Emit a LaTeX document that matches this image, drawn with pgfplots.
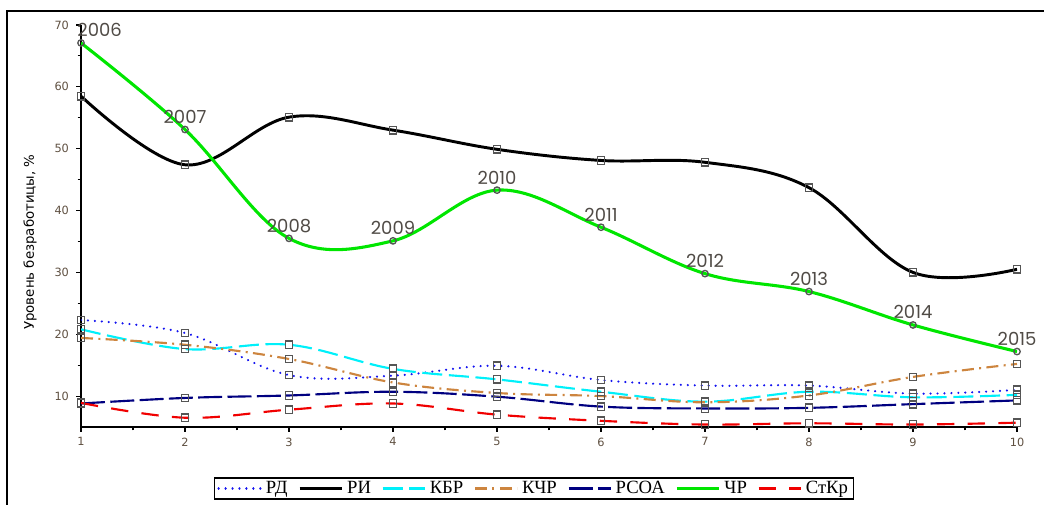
\documentclass[border=0pt]{standalone}
\usepackage{pgfplots}
\pgfplotsset{compat=1.18}
\usepackage{pgfplotstable}
\usepackage{fontspec}
\setmainfont{Liberation Serif}
\newfontfamily\ticksfont{DejaVu Sans}
\newfontfamily\yearfont{Poppins}
\definecolor{tickc}{RGB}{95,80,65}
\definecolor{rd}{RGB}{20,20,240}
\definecolor{kbr}{RGB}{0,240,250}
\definecolor{kchr}{RGB}{205,133,63}
\definecolor{rsoa}{RGB}{0,0,128}
\definecolor{chr}{RGB}{0,230,0}
\definecolor{stkr}{RGB}{240,0,0}
\definecolor{mk}{RGB}{85,85,85}
\definecolor{yearc}{RGB}{80,75,70}

\pgfplotstableread{
x y lab dx
1 67.1 2006 14
2 53.1 2007 0
3 35.5 2008 0
4 35.1 2009 0
5 43.3 2010 0
6 37.3 2011 0
7 29.8 2012 0
8 26.9 2013 0
9 21.5 2014 0
10 17.2 2015 0
}\chrtable

\begin{document}
\begin{tikzpicture}[x=1pt,y=1pt]
\useasboundingbox (0,0) rectangle (783,378);
\draw[line width=2.2pt] (5.25,-10) -- (5.25,369.75) -- (800,369.75);
\begin{axis}[
  at={(60.75pt,57.75pt)}, anchor=south west,
  scale only axis, width=702pt, height=301.5pt,
  xmin=1, xmax=10, ymin=5, ymax=70,
  axis x line*=bottom, axis y line*=left,
  axis line style={line width=0.9pt, black},
  xtick={1,...,10}, ytick={10,20,...,70},
  minor x tick num=1, minor y tick num=1,
  tick align=outside,
  major tick length=3.5pt, minor tick length=2.5pt,
  tick style={line width=0.8pt, black},
  ticklabel style={font=\ticksfont\fontsize{8.5}{10}\selectfont, text=tickc},
  /pgf/number format/assume math mode=true,
  xticklabel style={yshift=-1pt},
  yticklabel style={xshift=-2pt},
  ylabel={Уровень безработицы, \%},
  every axis y label/.style={at={(axis description cs:-0.0545,0.46)}, rotate=90, anchor=center, font=\ticksfont\fontsize{10}{12}\selectfont},
  legend columns=7,
  legend style={at={(0.484,-0.153)}, anchor=center, draw=black, line width=0.8pt,
     font=\fontsize{14}{15}\selectfont, inner xsep=2pt, inner ysep=0.5pt,
     /tikz/every odd column/.append style={column sep=1pt},
     /tikz/every even column/.append style={column sep=6pt}},
  legend image code/.code={\draw[#1] (0pt,0pt) -- (31.5pt,0pt);},
  smooth, tension=0.6,
]
\addplot[rd, line width=1.8pt, line cap=round, dash pattern=on 0.01pt off 5.2pt,
  mark=square, mark size=2.8pt, mark options={solid, draw=mk, fill=none, line width=1pt}]
  coordinates {(1,22.3)(2,20.2)(3,13.4)(4,13.3)(5,14.9)(6,12.6)(7,11.7)(8,11.7)(9,10.4)(10,11.0)};
\addlegendentry{РД}
\addplot[black, line width=2.2pt,
  mark=square, mark size=2.8pt, mark options={solid, draw=mk, fill=none, line width=1pt}]
  coordinates {(1,58.5)(2,47.4)(3,55.1)(4,53.0)(5,49.9)(6,48.1)(7,47.8)(8,43.7)(9,30.0)(10,30.5)};
\addlegendentry{РИ}
\addplot[kbr, line width=1.6pt, dash pattern=on 15pt off 5pt,
  mark=square, mark size=2.8pt, mark options={solid, draw=mk, fill=none, line width=1pt}]
  coordinates {(1,20.8)(2,17.6)(3,18.3)(4,14.4)(5,12.7)(6,10.7)(7,9.1)(8,10.7)(9,9.8)(10,10.2)};
\addlegendentry{КБР}
\addplot[kchr, line width=1.6pt, dash pattern=on 9pt off 4pt on 1.5pt off 4pt,
  mark=square, mark size=2.8pt, mark options={solid, draw=mk, fill=none, line width=1pt}]
  coordinates {(1,19.4)(2,18.3)(3,16.0)(4,12.2)(5,10.5)(6,10.0)(7,9.0)(8,10.1)(9,13.1)(10,15.2)};
\addlegendentry{КЧР}
\addplot[rsoa, line width=1.6pt, dash pattern=on 18pt off 4pt,
  mark=square, mark size=2.8pt, mark options={solid, draw=mk, fill=none, line width=1pt}]
  coordinates {(1,8.8)(2,9.7)(3,10.1)(4,10.7)(5,9.9)(6,8.3)(7,8.0)(8,8.1)(9,8.7)(10,9.3)};
\addlegendentry{РСОА}
\addplot[chr, line width=2.3pt,
  mark=o, mark size=2.4pt, mark options={solid, draw=mk, fill=none, line width=1pt},
  point meta=explicit symbolic,
  visualization depends on={\thisrow{dx} \as \dx},
  nodes near coords,
  every node near coord/.append style={anchor=center, xshift=\dx, yshift=9.5pt,
     font=\yearfont\fontsize{13.5}{15}\selectfont, text=yearc}]
  table[x=x, y=y, meta=lab] {\chrtable};
\addlegendentry{ЧР}
\addplot[stkr, line width=1.6pt, dash pattern=on 13pt off 10pt,
  mark=square, mark size=2.8pt, mark options={solid, draw=mk, fill=none, line width=1pt}]
  coordinates {(1,8.9)(2,6.5)(3,7.8)(4,8.8)(5,7.0)(6,6.0)(7,5.4)(8,5.6)(9,5.4)(10,5.7)};
\addlegendentry{СтКр}
\end{axis}
\end{tikzpicture}
\end{document}
